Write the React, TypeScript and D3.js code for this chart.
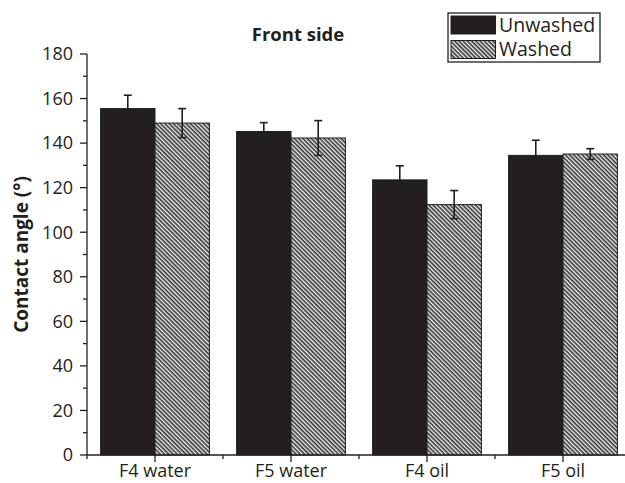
import React from 'react';
import * as d3 from 'd3';

// Contact angle, front side
const categories = ['F4 water', 'F5 water', 'F4 oil', 'F5 oil'];
const seriesNames = ['Unwashed', 'Washed'];
const unwashed = [155.5, 145.2, 123.5, 134.5];
const unwashedErr = [6, 4, 6.3, 6.8];
const washed = [149, 142.3, 112.4, 135.1];
const washedErr = [6.5, 7.8, 6.3, 2.4];
const yTicks = [0, 20, 40, 60, 80, 100, 120, 140, 160, 180];

const W = 625;
const H = 483;
const margin = { top: 54, left: 87, bottom: 28 };
const font = "'Open Sans', 'Noto Sans', sans-serif";
const ink = '#231f20';

const App = () => {
  const x = d3.scaleBand<string>()
    .domain(categories)
    .range([margin.left, margin.left + 136 * categories.length])
    .padding(0);

  const y = d3.scaleLinear()
    .domain([0, 180])
    .range([H - margin.bottom, margin.top]);

  const barW = x.bandwidth() * 0.4;
  const y0 = y(0);

  const minorY = d3.range(10, 180, 20);
  const bounds = categories.slice(1).map(c => x(c) as number);

  const groups = [
    { name: seriesNames[0], vals: unwashed, errs: unwashedErr, fill: ink, dx: -barW },
    { name: seriesNames[1], vals: washed, errs: washedErr, fill: 'url(#hatch)', dx: 0 },
  ];

  return (
    <svg width={W} height={H} style={{ position: 'absolute', left: 0, top: 0, background: '#fff' }}
      fontFamily={font}>
      <defs>
        <pattern id="hatch" patternUnits="userSpaceOnUse" width="6" height="3"
          patternTransform="rotate(45)">
          <rect width="6" height="3" fill="#f2f2f2" />
          <rect y="0" width="6" height="1.6" fill="#333" />
        </pattern>
      </defs>

      {/* bars */}
      {groups.map(g => (
        <g key={g.name}>
          {categories.map((c, i) => {
            const cx = (x(c) as number) + x.bandwidth() / 2;
            return (
              <rect key={c} x={cx + g.dx} y={y(g.vals[i])} width={barW} height={y0 - y(g.vals[i])}
                fill={g.fill} stroke={ink} strokeWidth={1} />
            );
          })}
        </g>
      ))}

      {/* error bars */}
      {groups.map(g => (
        <g key={g.name + '-err'} stroke={ink} strokeWidth={1.6}>
          {categories.map((c, i) => {
            const cx = (x(c) as number) + x.bandwidth() / 2 + g.dx + barW / 2;
            const top = y(g.vals[i] + g.errs[i]);
            const bot = y(g.vals[i] - g.errs[i]);
            return (
              <g key={c}>
                <line x1={cx} x2={cx} y1={top} y2={bot} />
                <line x1={cx - 4} x2={cx + 4} y1={top} y2={top} />
                <line x1={cx - 4} x2={cx + 4} y1={bot} y2={bot} />
              </g>
            );
          })}
        </g>
      ))}

      {/* y axis */}
      <g stroke={ink} strokeWidth={1.3}>
        <line x1={margin.left} x2={margin.left} y1={y(180)} y2={y0} />
        {yTicks.map(t => (
          <line key={t} x1={margin.left - 7} x2={margin.left} y1={y(t)} y2={y(t)} />
        ))}
        {minorY.map(t => (
          <line key={t} x1={margin.left - 4} x2={margin.left} y1={y(t)} y2={y(t)} />
        ))}
      </g>
      {yTicks.map(t => (
        <text key={t} x={margin.left - 14} y={y(t)} dy="0.35em" textAnchor="end"
          fontSize={18} fill={ink}>{t}</text>
      ))}

      {/* x axis */}
      <g stroke={ink} strokeWidth={1.3}>
        <line x1={margin.left} x2={W} y1={y0} y2={y0} />
        <line x1={margin.left} x2={margin.left} y1={y0} y2={y0 + 4} />
        {categories.map(c => {
          const cx = (x(c) as number) + x.bandwidth() / 2;
          return <line key={c} x1={cx} x2={cx} y1={y0} y2={y0 + 7} />;
        })}
        {bounds.map(b => (
          <line key={b} x1={b} x2={b} y1={y0} y2={y0 + 4} />
        ))}
      </g>
      {categories.map(c => (
        <text key={c} x={(x(c) as number) + x.bandwidth() / 2} y={y0 + 22} textAnchor="middle"
          fontSize={18} fill={ink}>{c}</text>
      ))}

      {/* titles */}
      <text x={298} y={41} textAnchor="middle" fontSize={18.5} fontWeight="bold" fill={ink}>Front side</text>
      <text transform={`translate(28,${(y(180) + y0) / 2}) rotate(-90)`} textAnchor="middle"
        fontSize={19} fontWeight="bold" fill={ink}>Contact angle (°)</text>

      {/* legend */}
      <g transform="translate(448,13)">
        <rect width={152} height={49} fill="#fff" stroke={ink} strokeWidth={1.3} />
        {groups.map((g, i) => (
          <g key={g.name} transform={`translate(3,${3 + i * 24.5})`}>
            <rect width={44.5} height={18} fill={g.fill} stroke={ink} strokeWidth={1} />
            <text x={48} y={15.5} fontSize={19.5} fill={ink}>{g.name}</text>
          </g>
        ))}
      </g>
    </svg>
  );
};

export default App;
